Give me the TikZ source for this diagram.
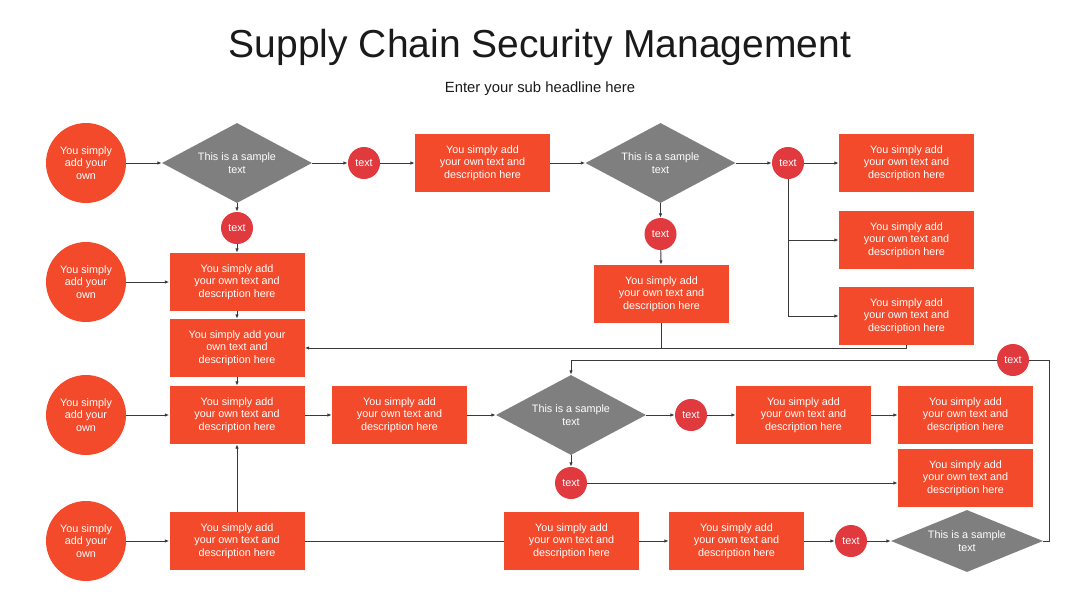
\documentclass[tikz,border=0pt]{standalone}
\usepackage{fontspec}
\setmainfont{Liberation Sans}
\usetikzlibrary{shapes.geometric,arrows.meta}
\definecolor{boxc}{HTML}{F24A2B}
\definecolor{dotc}{HTML}{E0393E}
\definecolor{diac}{HTML}{7F7F7F}
\definecolor{linec}{HTML}{3A3A3A}
\definecolor{titlec}{HTML}{1A1A1A}
\tikzset{
  every node/.style={text=white, align=center, inner sep=0pt},
  bodyfont/.style={font=\fontsize{10.8}{12.6}\selectfont},
  bigdot/.style={circle, fill=boxc, minimum size=80pt, bodyfont},
  smalldot/.style={circle, fill=dotc, minimum size=32pt, bodyfont},
  stepbox/.style={rectangle, fill=boxc, minimum width=135pt, minimum height=58pt, bodyfont},
  decision/.style={diamond, fill=diac, aspect=1.875, minimum width=150pt, minimum height=80pt, bodyfont},
  conn/.style={draw=linec, line width=0.9pt},
  arr/.style={conn, -{Latex[length=4.5pt,width=3.5pt]}},
}
\begin{document}
\begin{tikzpicture}[x=1pt,y=-1pt]
\useasboundingbox (0,0) rectangle (1080,608);
% titles
\node[text=titlec, font=\fontsize{39}{44}\selectfont] (title) at (540,47) {Supply Chain Security Management};
\node[text=titlec, font=\fontsize{14.8}{17}\selectfont] (sub) at (540,89) {Enter your sub headline here};
% row 1
\node[bigdot] (C1) at (86,163) {You simply\\add your\\own};
\node[decision] (D1) at (237,163) {This is a sample\\text};
\node[smalldot] (t1) at (364,163) {text};
\node[stepbox] (R1) at (482.5,163) {You simply add\\your own text and\\description here};
\node[decision] (D2) at (660.5,163) {This is a sample\\text};
\node[smalldot] (t2) at (788,163) {text};
\node[stepbox] (R2) at (906.5,163) {You simply add\\your own text and\\description here};
\node[stepbox] (R3) at (906.5,240) {You simply add\\your own text and\\description here};
\node[stepbox] (R4) at (906.5,316) {You simply add\\your own text and\\description here};
% row 2
\node[smalldot] (t4) at (237,228) {text};
\node[bigdot] (C2) at (86,282) {You simply\\add your\\own};
\node[stepbox] (R6) at (237,282) {You simply add\\your own text and\\description here};
\node[smalldot] (t3) at (660.5,234) {text};
\node[stepbox] (R5) at (661.5,294) {You simply add\\your own text and\\description here};
\node[stepbox] (R7) at (237,348) {You simply add your\\own text and\\description here};
% row 3
\node[bigdot] (C3) at (86,415) {You simply\\add your\\own};
\node[stepbox] (R8) at (237,415) {You simply add\\your own text and\\description here};
\node[stepbox] (R9) at (399.5,415) {You simply add\\your own text and\\description here};
\node[decision] (D3) at (571,415) {This is a sample\\text};
\node[smalldot] (t6) at (691,415) {text};
\node[stepbox] (R10) at (803.5,415) {You simply add\\your own text and\\description here};
\node[stepbox] (R11) at (965.5,415) {You simply add\\your own text and\\description here};
\node[stepbox] (R12) at (965.5,478) {You simply add\\your own text and\\description here};
\node[smalldot] (t7) at (571,483) {text};
\node[smalldot] (t5) at (1013,360) {text};
% row 4
\node[bigdot] (C4) at (86,541) {You simply\\add your\\own};
\node[stepbox] (R13) at (237,541) {You simply add\\your own text and\\description here};
\node[stepbox] (R14) at (571.5,541) {You simply add\\your own text and\\description here};
\node[stepbox] (R15) at (736.5,541) {You simply add\\your own text and\\description here};
\node[smalldot] (t8) at (851,541) {text};
\node[decision, minimum height=62pt, minimum width=152pt, aspect=2.45] (D4) at (967,541) {This is a sample\\text};
\coordinate (c1) at (1049,360);
% connectors row 1
\draw[arr] (C1) -- (D1);
\draw[arr] (D1) -- (t1);
\draw[arr] (t1) -- (R1);
\draw[arr] (R1) -- (D2);
\draw[arr] (D2) -- (t2);
\draw[arr] (t2) -- (R2);
\draw[arr] (t2) |- (R3);
\draw[arr] (t2) |- (R4);
% down from diamonds
\draw[arr] (D1) -- (t4);
\draw[arr] (t4) -- (R6);
\draw[arr] (D2) -- (t3);
\draw[arr] (t3) -- (R5);
\draw[arr] (C2) -- (R6);
\draw[arr] (R6) -- (R7);
\draw[arr] (R7) -- (R8);
\draw[arr] (R4.south) |- (R7.east);
\draw[conn] (R5.south) -- (R5.south |- R7.east);
% row 3
\draw[arr] (C3) -- (R8);
\draw[arr] (R8) -- (R9);
\draw[arr] (R9) -- (D3);
\draw[arr] (D3) -- (t6);
\draw[arr] (t6) -- (R10);
\draw[arr] (R10) -- (R11);
\draw[arr] (D3) -- (t7);
\draw[arr] (t7) -- (t7 -| R12.west);
% row 4
\draw[arr] (C4) -- (R13);
\draw[arr] (R13) -- (R8);
\draw[conn] (R13) -- (R14);
\draw[arr] (R14) -- (R15);
\draw[arr] (R15) -- (t8);
\draw[arr] (t8) -- (D4);
\draw[conn] (D4.east) -- (D4.east -| c1) -- (c1) -- (t5);
\draw[arr] (t5) -| (D3.north);
\end{tikzpicture}
\end{document}
